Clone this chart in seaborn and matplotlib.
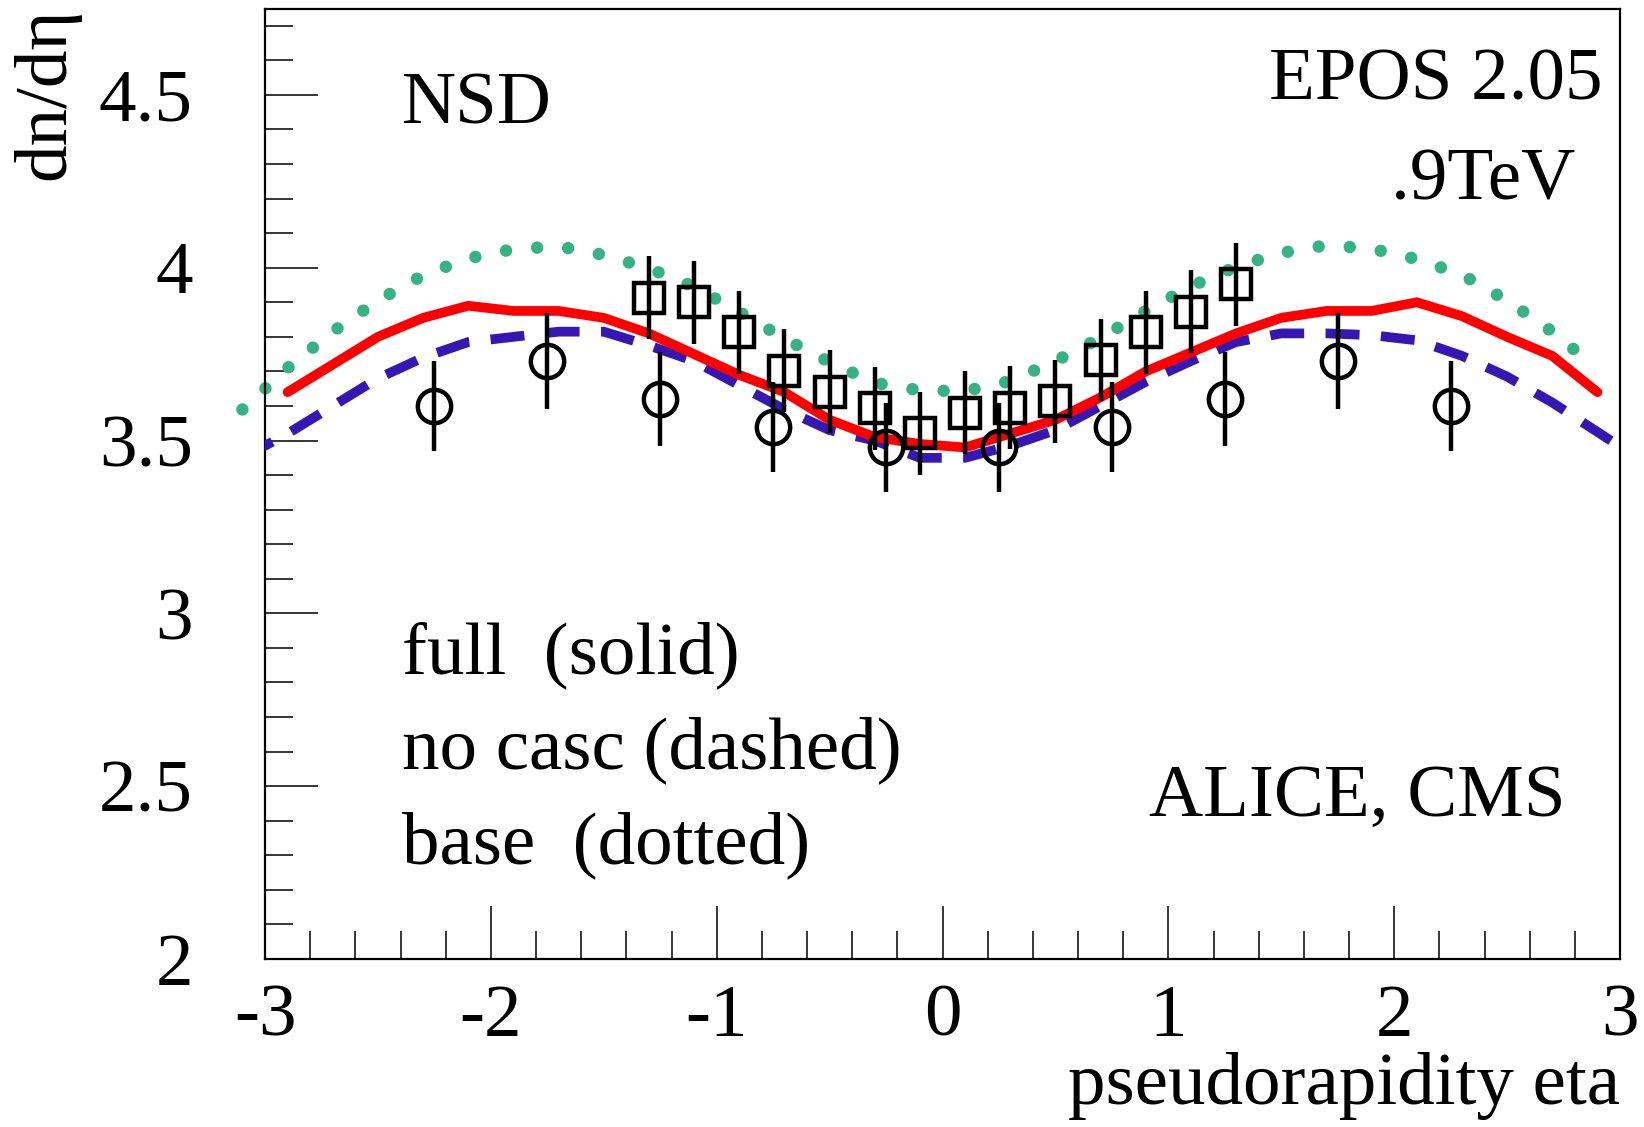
import numpy as np
import pandas as pd
import matplotlib
matplotlib.use("Agg")
import matplotlib.pyplot as plt
import seaborn as sns
from matplotlib.ticker import MultipleLocator, FixedLocator

# ---------------- data ----------------
eta_full = [-2.9, -2.7, -2.5, -2.3, -2.1, -1.9, -1.7, -1.5, -1.3, -1.1, -0.9, -0.7, -0.5, -0.3, -0.1,
            0.1, 0.3, 0.5, 0.7, 0.9, 1.1, 1.3, 1.5, 1.7, 1.9, 2.1, 2.3, 2.5, 2.7, 2.9]
dn_full = [3.64, 3.72, 3.80, 3.855, 3.89, 3.875, 3.875, 3.855, 3.81, 3.75, 3.69, 3.64, 3.56, 3.51, 3.49,
           3.48, 3.52, 3.56, 3.625, 3.70, 3.755, 3.81, 3.855, 3.875, 3.875, 3.90, 3.86, 3.80, 3.745, 3.64]

eta_nocasc = [-3.1, -2.9, -2.7, -2.5, -2.3, -2.1, -1.9, -1.7, -1.5, -1.3, -1.1, -0.9, -0.7, -0.5, -0.3, -0.1,
              0.1, 0.3, 0.5, 0.7, 0.9, 1.1, 1.3, 1.5, 1.7, 1.9, 2.1, 2.3, 2.5, 2.7, 2.9, 3.1]
dn_nocasc = [3.45, 3.52, 3.60, 3.68, 3.74, 3.785, 3.80, 3.815, 3.815, 3.775, 3.73, 3.66, 3.59, 3.53, 3.50, 3.45,
             3.45, 3.485, 3.53, 3.60, 3.67, 3.73, 3.785, 3.81, 3.81, 3.805, 3.79, 3.745, 3.685, 3.61, 3.525, 3.44]

eta_base = [-3.1, -2.9, -2.7, -2.5, -2.3, -2.1, -1.9, -1.7, -1.5, -1.3, -1.1, -0.9, -0.7, -0.5, -0.3, -0.1,
            0.1, 0.3, 0.5, 0.7, 0.9, 1.1, 1.3, 1.5, 1.7, 1.9, 2.1, 2.3, 2.5, 2.7, 2.9]
dn_base = [3.59, 3.71, 3.815, 3.905, 3.978, 4.027, 4.054, 4.062, 4.037, 3.998, 3.945, 3.872, 3.795, 3.727, 3.667, 3.645,
           3.643, 3.672, 3.73, 3.797, 3.875, 3.946, 4.003, 4.043, 4.065, 4.055, 4.025, 3.98, 3.905, 3.815, 3.708]

eta_alice = [-2.25, -1.75, -1.25, -0.75, -0.25, 0.25, 0.75, 1.25, 1.75, 2.25]
dn_alice = [3.60, 3.73, 3.62, 3.54, 3.48, 3.48, 3.54, 3.62, 3.73, 3.60]
err_alice = [0.13, 0.14, 0.135, 0.13, 0.13, 0.13, 0.13, 0.135, 0.14, 0.13]

eta_cms = [-1.3, -1.1, -0.9, -0.7, -0.5, -0.3, -0.1, 0.1, 0.3, 0.5, 0.7, 0.9, 1.1, 1.3]
dn_cms = [3.913, 3.90, 3.813, 3.702, 3.641, 3.593, 3.521, 3.581, 3.595, 3.613, 3.733, 3.813, 3.873, 3.952]
err_cms = [0.12] * 14

xtick_vals = [-3, -2, -1, 0, 1, 2, 3]
xtick_labels = ["-3", "-2", "-1", "0", "1", "2", "3"]
ytick_vals = [2, 2.5, 3, 3.5, 4, 4.5]
ytick_labels = ["2", "2.5", "3", "3.5", "4", "4.5"]

# ---------------- style ----------------
sns.set_theme(style="white")
plt.rcParams["font.family"] = ["Liberation Serif", "DejaVu Serif"]
plt.rcParams["axes.unicode_minus"] = False

W, H = 1644, 1127
fig = plt.figure(figsize=(W / 100, H / 100), dpi=100)
L, R, B, T = 265, 1620, 959, 8.5
ax = fig.add_axes([L / W, 1 - B / H, (R - L) / W, (B - T) / H])

FS = 54
RED = "#ff0000"
BLUE = "#3517b4"
GREEN = "#35b384"

df_full = pd.DataFrame({"eta": eta_full, "dn": dn_full})
df_nocasc = pd.DataFrame({"eta": eta_nocasc, "dn": dn_nocasc})
df_base = pd.DataFrame({"eta": eta_base, "dn": dn_base})

sns.lineplot(data=df_base, x="eta", y="dn", ax=ax, color=GREEN, lw=9.0,
             estimator=None, sort=False, clip_on=False, zorder=2)
ln_base = ax.lines[-1]
ln_base.set_linestyle((0, (0.001, 2.5)))
ln_base.set_dash_capstyle("round")

sns.lineplot(data=df_nocasc, x="eta", y="dn", ax=ax, color=BLUE, lw=7.0,
             estimator=None, sort=False, zorder=3)
ln_nc = ax.lines[-1]
ln_nc.set_linestyle((0, (3.5, 2.2)))
ln_nc.set_dash_capstyle("butt")

sns.lineplot(data=df_full, x="eta", y="dn", ax=ax, color=RED, lw=7.0,
             estimator=None, sort=False, zorder=4)
ax.lines[-1].set_solid_joinstyle("miter")

ax.errorbar(eta_alice, dn_alice, yerr=err_alice, fmt="o", ms=24, mfc="none", mec="black",
            mew=3.2, ecolor="black", elinewidth=3.2, capsize=0, zorder=5)
ax.errorbar(eta_cms, dn_cms, yerr=err_cms, fmt="s", ms=22, mfc="none", mec="black",
            mew=3.2, ecolor="black", elinewidth=3.2, capsize=0, zorder=5)

ax.set_xlim(-3, 3)
ax.set_ylim(2, 4.75)
ax.set_xlabel("")
ax.set_ylabel("")

ax.xaxis.set_major_locator(FixedLocator(xtick_vals))
ax.set_xticklabels(xtick_labels)
ax.xaxis.set_minor_locator(MultipleLocator(0.2))
ax.yaxis.set_major_locator(FixedLocator(ytick_vals))
ax.set_yticklabels(ytick_labels)
ax.yaxis.set_minor_locator(MultipleLocator(0.1))

ax.tick_params(axis="both", which="both", direction="in", colors="black",
               bottom=True, left=True, top=False, right=False, labelsize=FS)
ax.tick_params(axis="x", which="major", length=38, width=1.1, pad=18)
ax.tick_params(axis="x", which="minor", length=20, width=1.1)
ax.tick_params(axis="y", which="major", length=38, width=1.1, pad=52)
ax.tick_params(axis="y", which="minor", length=20, width=1.1)
for lab in ax.get_xticklabels() + ax.get_yticklabels():
    lab.set_fontsize(FS)

for sp in ax.spines.values():
    sp.set_visible(True)
    sp.set_color("black")
    sp.set_linewidth(1.6)
ax.grid(False)
ax.set_facecolor("white")


def px(x, y):
    return x / W, 1 - y / H


kw = dict(fontsize=FS, color="black", va="baseline")
fig.text(*px(402, 123), "NSD", ha="left", **kw)
fig.text(*px(1602, 100), "EPOS 2.05", ha="right", **kw)
fig.text(*px(1575, 199), ".9TeV", ha="right", **kw)
fig.text(*px(402, 673), "full  (solid)", ha="left", **kw)
fig.text(*px(402, 768), "no casc (dashed)", ha="left", **kw)
fig.text(*px(402, 863), "base  (dotted)", ha="left", **kw)
fig.text(*px(1565, 816), "ALICE, CMS", ha="right", **kw)
fig.text(*px(1620, 1104), "pseudorapidity eta", ha="right", **kw)
fig.text(*px(46, 8), "dn/dη", ha="center", va="top", rotation=90, fontsize=FS, color="black")

fig.savefig("out.png", dpi=100, facecolor="white")
